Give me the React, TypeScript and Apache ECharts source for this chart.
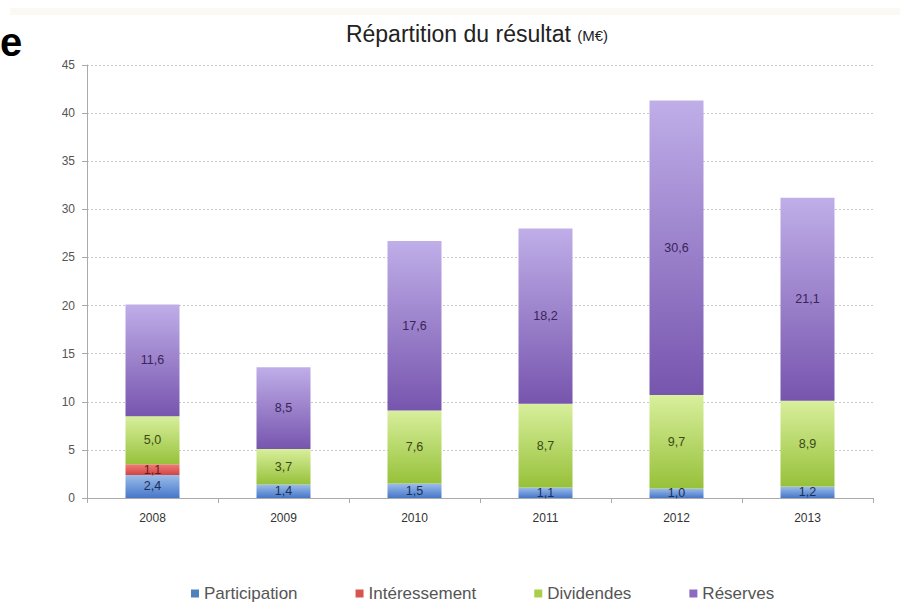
import React, { useEffect, useRef } from "react";
import * as echarts from "echarts";

const categories = ["2008", "2009", "2010", "2011", "2012", "2013"];
const participation = [2.4, 1.4, 1.5, 1.1, 1.0, 1.2];
const interessement = [1.1, 0, 0, 0, 0, 0];
const dividendes = [5.0, 3.7, 7.6, 8.7, 9.7, 8.9];
const reserves = [11.6, 8.5, 17.6, 18.2, 30.6, 21.1];
const yTicks = { min: 0, max: 45, interval: 5 };

const grad = (top: string, bottom: string) =>
  new echarts.graphic.LinearGradient(0, 0, 0, 1, [
    { offset: 0, color: top },
    { offset: 1, color: bottom },
  ]);

const fmt = (p: any) => (p.value === 0 ? "" : Number(p.value).toFixed(1).replace(".", ","));

export default function App() {
  const ref = useRef<HTMLDivElement>(null);
  useEffect(() => {
    if (!ref.current) return;
    const chart = echarts.init(ref.current, undefined, { renderer: "svg" });
    const font = "Liberation Sans";
    const mk = (name: string, data: number[], color: any, labelColor: string) => ({
      name,
      type: "bar",
      stack: "total",
      data,
      barWidth: 54,
      itemStyle: { color },
      label: {
        show: true,
        position: "inside",
        formatter: fmt,
        fontSize: 12.5,
        fontFamily: font,
        color: labelColor,
      },
      emphasis: { disabled: true },
    });
    chart.setOption({
      animation: false,
      backgroundColor: "#ffffff",
      textStyle: { fontFamily: font },
      title: {
        text: "Répartition du résultat {s|(M€)}",
        left: 472,
        textAlign: "center",
        top: 17,
        textStyle: {
          fontSize: 23,
          fontWeight: "normal",
          color: "#222",
          fontFamily: font,
          rich: { s: { fontSize: 15, color: "#222", fontFamily: font, padding: [4, 0, 0, 0] } },
        },
      },
      graphic: [
        { type: "rect", shape: { x: 10, y: 8, width: 890, height: 7 }, style: { fill: "#fcf9f4" }, silent: true },
        {
          type: "text",
          left: 0,
          top: 22,
          style: { text: "e", fontSize: 40, fontWeight: "bold", fill: "#000", fontFamily: "Liberation Sans" },
        },
      ],
      legend: {
        bottom: 1,
        left: 186,
        icon: "rect",
        itemWidth: 8,
        itemHeight: 8,
        itemGap: 58,
        itemTextGap: 4,
        textStyle: { fontSize: 17, color: "#555", fontFamily: font },
        data: [
          { name: "Participation", itemStyle: { color: "#4f81bd" } },
          { name: "Intéressement", itemStyle: { color: "#d9534f" } },
          { name: "Dividendes", itemStyle: { color: "#a8cf4a" } },
          { name: "Réserves", itemStyle: { color: "#8a6bbf" } },
        ],
      },
      grid: { left: 87, right: 36, top: 65, bottom: 110, containLabel: false },
      xAxis: {
        type: "category",
        data: categories,
        axisLine: { lineStyle: { color: "#aaa" } },
        axisTick: { show: true, length: 5, lineStyle: { color: "#aaa" } },
        axisLabel: { fontSize: 12, color: "#333", margin: 14, fontFamily: font },
      },
      yAxis: {
        type: "value",
        min: yTicks.min,
        max: yTicks.max,
        interval: yTicks.interval,
        axisLine: { show: true, lineStyle: { color: "#aaa" } },
        axisTick: { show: true, length: 5, lineStyle: { color: "#aaa" } },
        axisLabel: { fontSize: 12, color: "#555", margin: 12, fontFamily: font },
        splitLine: { lineStyle: { color: "#c8c8c8", type: [2, 2] } },
      },
      series: [
        mk("Participation", participation, grad("#9dbdea", "#4677c8"), "#1a2f5a"),
        mk("Intéressement", interessement, grad("#f07b78", "#d04644"), "#6a1a1a"),
        mk("Dividendes", dividendes, grad("#d8ef9c", "#97c13a"), "#3a4a14"),
        mk("Réserves", reserves, grad("#bfaee8", "#7755ae"), "#3a2458"),
      ],
    });
    return () => chart.dispose();
  }, []);
  return (
    <div
      ref={ref}
      style={{ position: "fixed", left: 0, top: 0, width: 909, height: 608 }}
    />
  );
}
